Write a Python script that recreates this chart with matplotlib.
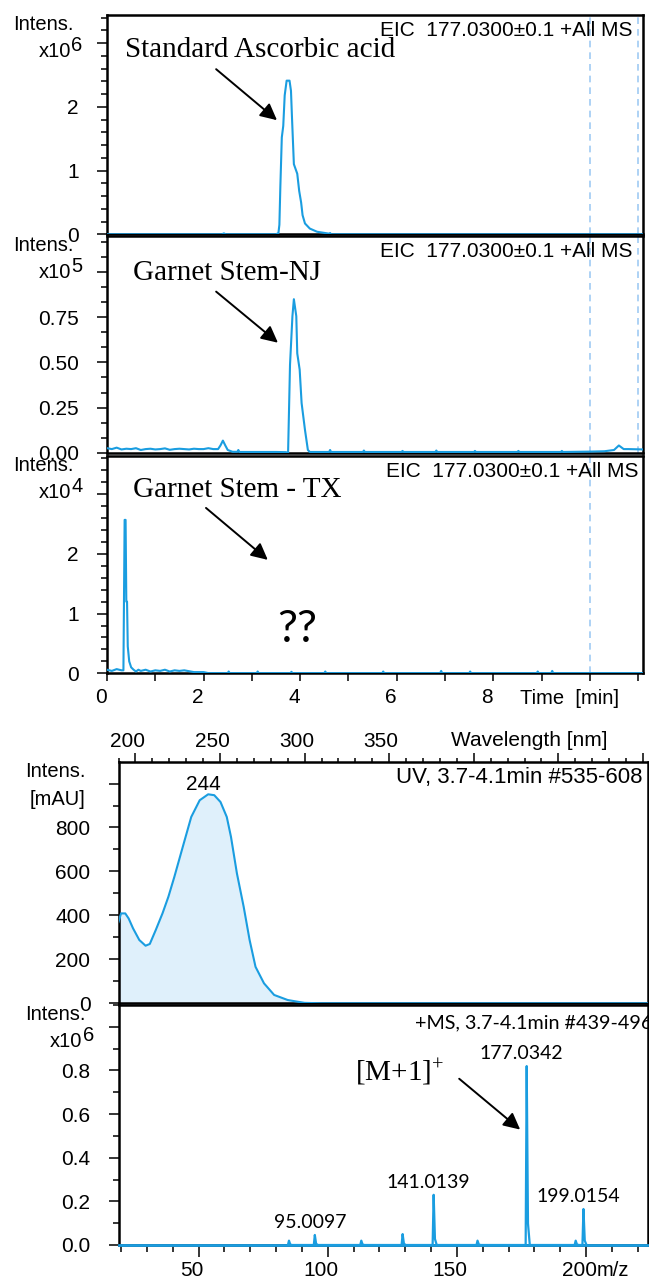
import matplotlib
matplotlib.use('Agg')
import matplotlib.pyplot as plt
import matplotlib.transforms as mtransforms
from matplotlib.ticker import MultipleLocator, FixedLocator

# ---------------- data ----------------
# EIC 177.03, standard ascorbic acid (x1e6)
std_time = [0.0, 2.38, 2.42, 2.46, 3.50, 3.55, 3.57, 3.59, 3.62, 3.65, 3.68, 3.72, 3.78,
            3.81, 3.83, 3.87, 3.94, 3.98, 4.02, 4.05, 4.10, 4.20, 4.35, 4.60, 4.62, 4.64, 11.1]
std_int = [0.0, 0.0, 0.015, 0.0, 0.0, 0.02, 0.15, 0.75, 1.52, 1.70, 2.18, 2.41, 2.41,
           2.25, 1.85, 1.10, 0.95, 0.68, 0.50, 0.30, 0.17, 0.09, 0.04, 0.01, 0.02, 0.0, 0.0]

# EIC 177.03, Garnet Stem-NJ (x1e5)
nj_time = [0.0, 0.1, 0.2, 0.3, 0.4, 0.5, 0.6, 0.7, 0.8, 0.9, 1.0, 1.1, 1.2, 1.3, 1.4, 1.5,
           1.6, 1.7, 1.8, 1.9, 2.0, 2.1, 2.2, 2.3, 2.35, 2.4, 2.45, 2.5, 2.6, 2.7, 2.72, 2.74,
           3.0, 3.5, 3.7, 3.75, 3.79, 3.84, 3.87, 3.92, 3.94, 3.99, 4.03, 4.10, 4.16, 4.2,
           4.6, 4.62, 4.64, 5.3, 5.32, 5.34, 6.1, 6.12, 6.14, 6.8, 6.82, 6.84, 7.6, 7.62,
           7.64, 8.5, 8.52, 8.54, 9.4, 9.42, 9.44, 10.0, 10.3, 10.5, 10.6, 10.7, 10.8, 11.1]
nj_int = [0.025, 0.020, 0.028, 0.018, 0.022, 0.020, 0.025, 0.015, 0.020, 0.022, 0.018,
          0.020, 0.024, 0.016, 0.020, 0.022, 0.020, 0.018, 0.022, 0.020, 0.020, 0.025,
          0.020, 0.020, 0.040, 0.067, 0.040, 0.015, 0.005, 0.005, 0.015, 0.004, 0.004,
          0.004, 0.003, 0.000, 0.487, 0.756, 0.850, 0.756, 0.550, 0.460, 0.275, 0.126,
          0.015, 0.004, 0.004, 0.015, 0.004, 0.004, 0.012, 0.004, 0.004, 0.010, 0.004,
          0.004, 0.012, 0.004, 0.004, 0.010, 0.004, 0.004, 0.010, 0.004, 0.004, 0.010,
          0.004, 0.006, 0.008, 0.015, 0.040, 0.020, 0.020, 0.018]

# EIC 177.03, Garnet Stem - TX (x1e4)
tx_time = [0.0, 0.1, 0.2, 0.3, 0.34, 0.365, 0.385, 0.40, 0.415, 0.43, 0.46, 0.5, 0.55,
           0.6, 0.65, 0.7, 0.8, 0.9, 1.0, 1.1, 1.2, 1.3, 1.4, 1.5, 1.6, 1.8, 2.0, 2.1,
           2.5, 2.52, 2.54, 3.1, 3.12, 3.14, 3.8, 3.82, 3.84, 4.5, 4.52, 4.54, 5.7, 5.72,
           5.74, 6.9, 6.92, 6.94, 7.5, 7.52, 7.54, 8.9, 8.92, 8.94, 9.2, 9.22, 9.24, 11.1]
tx_int = [0.06, 0.04, 0.07, 0.05, 0.05, 2.57, 2.57, 1.20, 1.20, 0.45, 0.20, 0.10, 0.06,
          0.03, 0.06, 0.04, 0.06, 0.03, 0.05, 0.04, 0.06, 0.03, 0.05, 0.04, 0.05, 0.02,
          0.02, 0.003, 0.003, 0.03, 0.003, 0.003, 0.03, 0.003, 0.003, 0.025, 0.003,
          0.003, 0.03, 0.003, 0.003, 0.03, 0.003, 0.003, 0.04, 0.003, 0.003, 0.03,
          0.003, 0.003, 0.03, 0.003, 0.003, 0.04, 0.003, 0.003]

# UV spectrum 3.7-4.1 min
uv_nm = [190, 191.5, 194, 196, 198.6, 202.3, 206, 208.5, 212, 216, 219.5, 223, 228, 233,
         238, 243, 246.6, 250.3, 254, 256.5, 260, 264, 267.5, 271, 276, 282, 290, 296,
         300, 310, 503]
uv_mau = [370, 409, 409, 386, 341, 288, 262, 270, 333, 409, 485, 575, 712, 848, 924,
          951, 947, 916, 848, 757, 591, 439, 288, 166, 91, 38, 15, 7, 2, 0, 0]
uv_peak_nm = 244
uv_peak_mau = 951

# MS spectrum 3.7-4.1 min (x1e6)
ms_mz = [85.0, 95.0097, 113.0, 129.0, 141.0139, 158.0, 177.0342, 196.0, 199.0154]
ms_int = [0.02, 0.046, 0.02, 0.05, 0.23, 0.02, 0.82, 0.02, 0.165]
ms_labels = ['', '95.0097', '', '', '141.0139', '', '177.0342', '', '199.0154']

time_ticks = [0, 2, 4, 6, 8]
uv_ticks = [200, 250, 300, 350, 400, 450, 500]
uv_ticklabels = ['200', '250', '300', '350', '', '', '']
mz_ticks = [50, 100, 150, 200]

# ---------------- style ----------------
W, H, DPI = 649, 1283, 100
BLUE = '#1a9de0'
FILL = '#dff0fb'
DASH = '#9fcbf3'
SANS = ['Liberation Sans', 'DejaVu Sans']
SERIF = ['Liberation Serif', 'DejaVu Serif']
CAL = ['Lato', 'DejaVu Sans']
plt.rcParams['font.family'] = SANS
plt.rcParams['mathtext.default'] = 'regular'
TICKFS = 15
LABFS = 14.5

fig = plt.figure(figsize=(W / DPI, H / DPI), dpi=DPI)


def fx(px):
    return px / W


def fy(py):
    return 1 - py / H


def axes_px(l, t, r, b):
    return fig.add_axes([l / W, 1 - b / H, (r - l) / W, (b - t) / H])


def style_axes(ax):
    for s in ax.spines.values():
        s.set_linewidth(1.8)
        s.set_color('black')
    ax.tick_params(axis='y', which='major', direction='out', length=7.2, width=1.1,
                   labelsize=TICKFS, pad=13)
    ax.tick_params(axis='y', which='minor', direction='out', length=4.3, width=1.1)
    ax.tick_params(axis='x', which='both', labelsize=TICKFS)


def shift_xlabels(ax, dx_px):
    off = mtransforms.ScaledTranslation(dx_px / DPI, 0, fig.dpi_scale_trans)
    for lab in ax.get_xticklabels():
        lab.set_transform(lab.get_transform() + off)


def ylab(l_px, top_px, power=None, unit=None):
    fig.text(fx(l_px - 33), fy(top_px + 15), 'Intens.', ha='right', va='baseline',
             fontsize=LABFS)
    if power is not None:
        fig.text(fx(l_px - 36), fy(top_px + 42), 'x10', ha='right', va='baseline',
                 fontsize=LABFS)
        fig.text(fx(l_px - 36), fy(top_px + 36), power, ha='left', va='baseline',
                 fontsize=LABFS)
    else:
        fig.text(fx(l_px - 33), fy(top_px + 43), unit, ha='right', va='baseline',
                 fontsize=LABFS)


XL, XR = 107, 643
panels = [
    (15, 234.3, std_time, std_int, 3.44, 0.2, ['0', '1', '2', ''], [0, 1, 2, 3],
     '6', [10, 11], 633),
    (236, 452.7, nj_time, nj_int, 1.2, 0.25 / 3, ['0.00', '0.25', '0.50', '0.75', ''],
     [0, 0.25, 0.5, 0.75, 1.0], '5', [10, 11], 633),
    (456, 673.3, tx_time, tx_int, 3.64, 0.2, ['0', '1', '2', ''], [0, 1, 2, 3],
     '4', [10], 638),
]
chrom_axes = []
for i, (top, bot, tt, yy, ymax, mnr, labs, ticks, power, dash, eic_r) in enumerate(panels):
    ax = axes_px(XL, top, XR, bot)
    style_axes(ax)
    ax.plot(tt, yy, color=BLUE, lw=1.5, zorder=3)
    for d in dash:
        ax.axvline(d, color=DASH, lw=1.2, ls=(0, (4, 3)), zorder=1)
    ax.set_xlim(0, 11.1)
    ax.set_ylim(0, ymax)
    ax.yaxis.set_major_locator(FixedLocator(ticks))
    ax.set_yticklabels(labs)
    ax.yaxis.set_minor_locator(MultipleLocator(mnr))
    fig.text(fx(eic_r), fy(top + 21), 'EIC  177.0300\u00b10.1 +All MS',
             ha='right', va='baseline', fontsize=15)
    ylab(XL, top, power=power)
    if i < 2:
        ax.set_xticks([])
    else:
        ax.xaxis.set_major_locator(FixedLocator(time_ticks))
        ax.xaxis.set_minor_locator(MultipleLocator(1))
        ax.tick_params(axis='x', which='both', direction='out', length=5.8, width=1.1, pad=5)
        shift_xlabels(ax, -6)
        fig.text(fx(520), fy(698), 'Time  [min]', ha='left', va='center', fontsize=LABFS)
    chrom_axes.append(ax)

# annotations (chromatograms)
arrow = dict(arrowstyle='-|>,head_length=1.0,head_width=0.5', mutation_scale=10,
             lw=1.4, color='black', shrinkA=0, shrinkB=0)
a1, a2, a3 = chrom_axes
a1.text(0.373, 2.78, 'Standard Ascorbic acid', family=SERIF, fontsize=21, va='baseline')
a1.annotate('', xy=(3.52, 1.79), xytext=(2.26, 2.59), arrowprops=arrow)
a2.text(0.54, 0.959, 'Garnet Stem-NJ', family=SERIF, fontsize=21, va='baseline')
a2.annotate('', xy=(3.54, 0.609), xytext=(2.26, 0.892), arrowprops=arrow)
a3.text(0.54, 2.96, 'Garnet Stem - TX', family=SERIF, fontsize=21, va='baseline')
a3.annotate('', xy=(3.33, 1.90), xytext=(2.05, 2.77), arrowprops=arrow)
a3.text(3.93, 0.52, '??', family=CAL, fontsize=32, ha='center', va='baseline')

# ---------------- UV ----------------
BL, BR = 118.5, 648
axu = axes_px(BL, 762, BR, 1003.3)
style_axes(axu)
axu.fill_between(uv_nm, uv_mau, 0, color=FILL, lw=0, zorder=1)
axu.plot(uv_nm, uv_mau, color=BLUE, lw=1.5, zorder=3)
axu.set_xlim(190, 503)
axu.set_ylim(0, 1098)
axu.yaxis.set_major_locator(FixedLocator([0, 200, 400, 600, 800, 1000]))
axu.set_yticklabels(['0', '200', '400', '600', '800', ''])
axu.yaxis.set_minor_locator(MultipleLocator(100))
axu.xaxis.tick_top()
axu.xaxis.set_major_locator(FixedLocator(uv_ticks))
axu.set_xticklabels(uv_ticklabels)
axu.xaxis.set_minor_locator(MultipleLocator(10))
axu.tick_params(axis='x', which='major', direction='out', length=6.5, width=1.1, pad=1.5)
axu.tick_params(axis='x', which='minor', direction='out', length=3.2, width=1.1)
shift_xlabels(axu, -8)
fig.text(fx(451), fy(741), 'Wavelength [nm]', ha='left', va='center', fontsize=15)
fig.text(fx(643), fy(783), 'UV, 3.7-4.1min #535-608', ha='right', va='baseline',
         fontsize=16)
ylab(BL, 762, unit='[mAU]')
axu.annotate(str(uv_peak_nm), xy=(uv_peak_nm, uv_peak_mau), xytext=(-4.5, 3),
             textcoords='offset points', ha='center', va='baseline', fontsize=15)

# ---------------- MS ----------------
axm = axes_px(BL, 1005, BR, 1245)
style_axes(axm)
xlo, xhi = 19, 224
axm.plot([xlo, xhi], [0, 0], color=BLUE, lw=2.0, zorder=3, clip_on=False)
prof_x, prof_y = [], []
for m, h in zip(ms_mz, ms_int):
    prof_x += [m - 0.4, m, m + 0.5, m + 1.2]
    prof_y += [0, h, h * 0.12, 0]
axm.plot(prof_x, prof_y, color=BLUE, lw=1.6, zorder=3)
for m, h, lab in zip(ms_mz, ms_int, ms_labels):
    if lab:
        axm.annotate(lab, xy=(m, h), xytext=(-3.6, 5), textcoords='offset points',
                     ha='center', va='baseline', family=CAL, fontsize=14)
axm.set_xlim(xlo, xhi)
axm.set_ylim(0, 1.10)
axm.yaxis.set_major_locator(FixedLocator([0, 0.2, 0.4, 0.6, 0.8, 1.0]))
axm.set_yticklabels(['0.0', '0.2', '0.4', '0.6', '0.8', ''])
axm.yaxis.set_minor_locator(MultipleLocator(0.1))
axm.xaxis.set_major_locator(FixedLocator(mz_ticks))
axm.xaxis.set_minor_locator(MultipleLocator(10))
axm.tick_params(axis='x', which='major', direction='out', length=8.4, width=1.1, pad=3)
axm.tick_params(axis='x', which='minor', direction='out', length=4.8, width=1.1)
shift_xlabels(axm, -7)
fig.text(fx(597), fy(1271), 'm/z', ha='left', va='center', fontsize=LABFS)
fig.text(fx(415), fy(1028), '+MS, 3.7-4.1min #439-496', ha='left', va='baseline',
         family=CAL, fontsize=14.2)
ylab(BL, 1005, power='6')
axm.text(110.7, 0.751, r'[M+1]$^{+}$', family=SERIF, fontsize=21, va='baseline')
axm.annotate('', xy=(174.5, 0.529), xytext=(150.9, 0.762), arrowprops=arrow)

fig.savefig('out.png', dpi=DPI)
